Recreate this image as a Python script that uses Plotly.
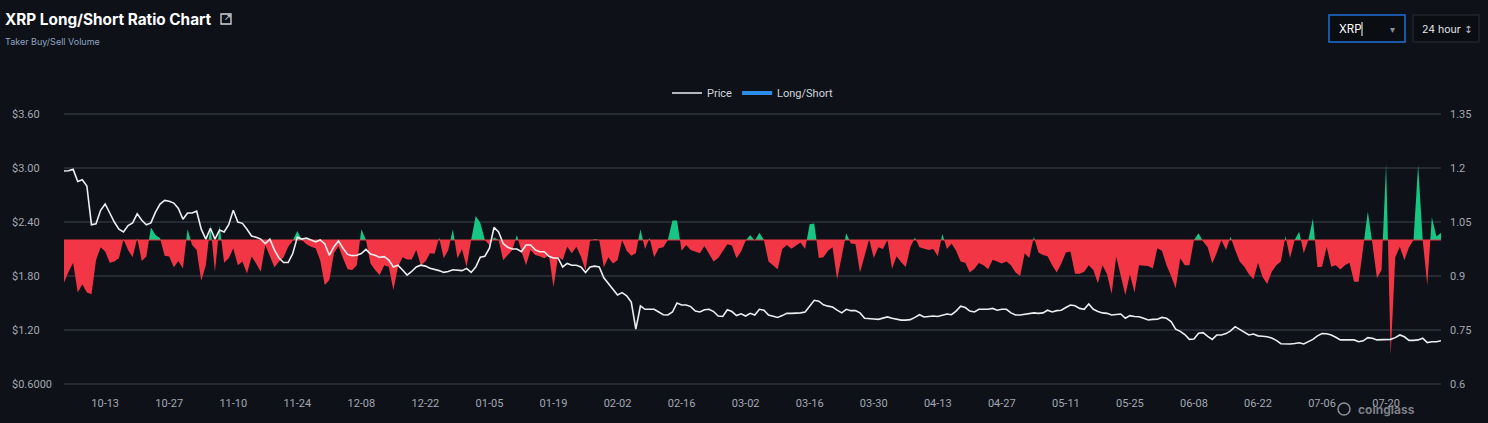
import pandas as pd
import plotly.graph_objects as go

# 日付（2025-10-04 から日次）
dates = pd.date_range('2025-10-04', periods=302, freq='D')

# XRP 価格（USD）
price = [
    2.967, 2.97, 2.985, 2.85, 2.87, 2.80, 2.37, 2.38, 2.53, 2.60,
    2.50, 2.40, 2.32, 2.29, 2.36, 2.39, 2.49, 2.42, 2.37, 2.39,
    2.51, 2.60, 2.64, 2.63, 2.61, 2.55, 2.43, 2.50, 2.50, 2.52,
    2.32, 2.21, 2.33, 2.21, 2.31, 2.29, 2.37, 2.53, 2.40, 2.385,
    2.32, 2.245, 2.23, 2.21, 2.16, 2.21, 2.09, 2.00, 1.95, 1.95,
    2.05, 2.23, 2.21, 2.22, 2.20, 2.18, 2.20, 2.156, 2.03, 2.126,
    2.19, 2.107, 2.04, 2.026, 2.03, 2.05, 2.096, 2.044, 2.03, 2.007,
    2.015, 1.978, 1.90, 1.92, 1.867, 1.81, 1.85, 1.90, 1.92, 1.91,
    1.886, 1.875, 1.86, 1.84, 1.85, 1.87, 1.865, 1.86, 1.885, 1.84,
    1.90, 2.01, 2.02, 2.11, 2.34, 2.29, 2.16, 2.12, 2.10, 2.10,
    2.07, 2.145, 2.145, 2.09, 2.07, 2.07, 2.02, 2.00, 2.00, 1.90,
    1.94, 1.92, 1.92, 1.90, 1.84, 1.90, 1.91, 1.90, 1.78, 1.72,
    1.65, 1.59, 1.615, 1.58, 1.51, 1.21, 1.467, 1.43, 1.43, 1.43,
    1.40, 1.37, 1.367, 1.40, 1.50, 1.478, 1.478, 1.46, 1.41, 1.40,
    1.425, 1.43, 1.405, 1.355, 1.35, 1.425, 1.405, 1.36, 1.38, 1.355,
    1.385, 1.367, 1.43, 1.42, 1.367, 1.355, 1.34, 1.36, 1.385, 1.385,
    1.385, 1.39, 1.40, 1.46, 1.53, 1.52, 1.48, 1.465, 1.455, 1.42,
    1.39, 1.43, 1.415, 1.415, 1.39, 1.33, 1.322, 1.322, 1.318, 1.335,
    1.345, 1.33, 1.318, 1.31, 1.31, 1.315, 1.34, 1.37, 1.345, 1.35,
    1.355, 1.35, 1.36, 1.378, 1.37, 1.41, 1.465, 1.45, 1.41, 1.40,
    1.43, 1.43, 1.43, 1.44, 1.42, 1.43, 1.43, 1.39, 1.367, 1.367,
    1.375, 1.387, 1.39, 1.385, 1.39, 1.42, 1.40, 1.415, 1.42, 1.45,
    1.478, 1.47, 1.44, 1.43, 1.49, 1.43, 1.405, 1.39, 1.385, 1.367,
    1.375, 1.378, 1.33, 1.36, 1.35, 1.348, 1.33, 1.311, 1.318, 1.32,
    1.34, 1.33, 1.294, 1.21, 1.185, 1.15, 1.096, 1.10, 1.163, 1.17,
    1.13, 1.096, 1.145, 1.145, 1.16, 1.19, 1.237, 1.207, 1.17, 1.145,
    1.155, 1.135, 1.13, 1.125, 1.11, 1.085, 1.048, 1.044, 1.044, 1.05,
    1.058, 1.045, 1.07, 1.096, 1.135, 1.16, 1.158, 1.145, 1.12, 1.09,
    1.09, 1.09, 1.09, 1.07, 1.08, 1.115, 1.108, 1.09, 1.09, 1.09,
    1.096, 1.115, 1.145, 1.125, 1.085, 1.085, 1.09, 1.108, 1.06, 1.07,
    1.07, 1.08,
]

# ロング/ショート比率
ratio = [
    0.881, 0.912, 0.937, 0.854, 0.877, 0.854, 0.849, 0.944, 0.98, 0.968,
    0.937, 0.94, 0.949, 1.002, 0.972, 0.952, 1.005, 0.942, 0.954, 1.035,
    1.014, 1.005, 0.956, 0.954, 0.924, 0.942, 0.921, 1.03, 0.986, 0.972,
    0.887, 0.93, 1.042, 0.912, 1.041, 0.937, 0.949, 0.977, 0.93, 0.94,
    0.907, 0.954, 0.935, 0.912, 0.986, 0.954, 0.924, 0.94, 0.952, 0.981,
    0.998, 1.025, 1.0, 0.988, 0.981, 0.977, 0.944, 0.875, 0.889, 0.963,
    0.983, 0.949, 0.919, 0.917, 0.93, 1.03, 1.0, 0.935, 0.917, 0.903,
    0.93, 0.926, 0.861, 0.926, 0.952, 0.946, 0.946, 0.972, 0.93, 0.94,
    0.963, 0.962, 1.007, 0.949, 0.972, 1.03, 0.949, 0.974, 0.926, 1.0,
    1.067, 1.048, 1.0, 0.986, 1.007, 1.0, 0.944, 0.958, 0.972, 1.014,
    0.968, 0.93, 0.972, 0.958, 0.955, 0.949, 0.958, 0.869, 0.954, 0.944,
    0.981, 0.963, 0.981, 0.954, 0.915, 0.998, 1.002, 1.0, 0.924, 0.952,
    0.935, 0.944, 1.0, 0.97, 0.956, 0.963, 1.03, 0.975, 1.006, 0.952,
    0.977, 0.98, 1.0, 1.054, 1.054, 0.97, 0.986, 0.972, 0.967, 0.963,
    0.983, 0.963, 0.94, 0.95, 0.968, 0.988, 0.985, 0.949, 0.968, 0.998,
    1.014, 0.998, 1.02, 1.0, 0.94, 0.93, 0.919, 0.975, 0.986, 0.976,
    0.985, 0.993, 0.975, 1.044, 1.046, 0.95, 0.952, 0.97, 0.98, 0.89,
    0.955, 1.019, 0.99, 0.989, 0.91, 0.96, 1.002, 0.95, 0.98, 0.975,
    1.0, 0.92, 0.955, 0.938, 0.925, 0.98, 1.007, 0.98, 0.975, 0.972,
    0.975, 0.955, 1.017, 0.975, 0.99, 0.97, 0.94, 0.937, 0.91, 0.92,
    0.936, 0.93, 0.919, 0.945, 0.94, 0.935, 0.94, 0.93, 0.91, 0.90,
    0.963, 0.95, 1.009, 0.965, 0.958, 0.955, 0.93, 0.91, 0.935, 0.965,
    0.968, 0.906, 0.906, 0.912, 0.93, 0.917, 0.88, 0.93, 0.905, 0.85,
    0.954, 0.90, 0.847, 0.905, 0.854, 0.93, 0.928, 0.928, 0.921, 0.977,
    0.97, 0.93, 0.90, 0.866, 0.949, 0.93, 0.93, 1.0, 1.019, 0.996,
    0.98, 0.935, 0.965, 1.0, 0.972, 1.009, 0.972, 0.94, 0.926, 0.905,
    0.891, 0.937, 0.897, 0.878, 0.912, 0.93, 0.94, 1.011, 0.95, 1.0,
    1.023, 0.963, 1.0, 1.06, 0.924, 0.926, 0.981, 0.926, 0.93, 0.918,
    0.93, 0.937, 0.884, 0.884, 0.98, 1.079, 0.99, 0.894, 0.917, 1.211,
    0.68, 0.952, 0.981, 0.944, 0.98, 1.0, 1.208, 1.0, 0.875, 1.063,
    1.01, 1.02,
]

# 軸の目盛り
price_ticks = [0.6, 1.2, 1.8, 2.4, 3.0, 3.6]
price_labels = ['$0.6000', '$1.20', '$1.80', '$2.40', '$3.00', '$3.60']
ratio_ticks = [0.6, 0.75, 0.9, 1.05, 1.2, 1.35]
ratio_labels = ['0.6', '0.75', '0.9', '1.05', '1.2', '1.35']

# 色
BG = '#0e1118'
GRID = '#262a33'
GREEN = '#16c784'
RED = '#f23645'
TICK = '#a3a8b2'

# プロット領域（ピクセル）: 端のグリッド線が消えないよう上下2pxずつ広げる
L, R, T, B = 64, 47, 112, 37
W, H = 1488, 423
PW, PH = W - L - R, H - T - B
PAD = 2 / 270  # 2px 分の比率


def px(x):
    # ピクセル座標 → paper座標 (x)
    return (x - L) / PW


def py(y):
    # ピクセル座標 → paper座標 (y)
    return (H - B - y) / PH


def padded(lo, hi):
    span = hi - lo
    return [lo - span * PAD, hi + span * PAD]


fig = go.Figure()

# 基準線 1.0
fig.add_trace(go.Scatter(
    x=dates, y=[1.0] * len(dates),
    mode='lines', line=dict(color=RED, width=1),
    showlegend=False, hoverinfo='skip', yaxis='y'
))

# ロング/ショート（1.0より上は緑、下は赤）
fig.add_trace(go.Scatter(
    x=dates, y=ratio,
    mode='lines', line=dict(width=0),
    fill='tonexty',
    fillgradient=dict(
        type='vertical', start=0.6, stop=1.35,
        colorscale=[[0, RED], [0.5333, RED], [0.5334, GREEN], [1, GREEN]]
    ),
    name='Long/Short', showlegend=False, yaxis='y'
))

# 価格
fig.add_trace(go.Scatter(
    x=dates, y=price,
    mode='lines', line=dict(color='#eceef0', width=1.6),
    name='Price', yaxis='y2'
))

# 凡例用
fig.add_trace(go.Scatter(
    x=[None], y=[None], mode='lines',
    line=dict(color='#2b8de8', width=4),
    name='Long/Short', yaxis='y'
))

annotations = []

# 左軸ラベル（左寄せ）
for v, t in zip(price_ticks, price_labels):
    annotations.append(dict(
        x=0, xref='paper', xanchor='left', xshift=-54,
        y=v, yref='y2', yanchor='middle',
        text=t, showarrow=False,
        font=dict(family='Roboto', size=11, color=TICK)
    ))

# タイトル・セレクタ・ロゴ
annotations += [
    dict(x=px(3), y=py(19), xref='paper', yref='paper', xanchor='left', yanchor='middle',
         text='<b>XRP Long/Short Ratio Chart</b>', showarrow=False,
         font=dict(family='Inter', size=15.3, color='#ffffff')),
    dict(x=px(3), y=py(41), xref='paper', yref='paper', xanchor='left', yanchor='middle',
         text='Taker Buy/Sell Volume', showarrow=False,
         font=dict(family='Inter', size=9, color='#8ea4c2')),
    dict(x=px(228), y=py(17), xref='paper', yref='paper', xanchor='center', yanchor='middle',
         text='↗', showarrow=False,
         font=dict(family='DejaVu Sans', size=9, color='#d5d8de')),
    dict(x=px(1337), y=py(29), xref='paper', yref='paper', xanchor='left', yanchor='middle',
         text='XRP', showarrow=False,
         font=dict(family='Inter', size=11.5, color='#ffffff')),
    dict(x=px(1392), y=py(29), xref='paper', yref='paper', xanchor='center', yanchor='middle',
         text='▾', showarrow=False,
         font=dict(family='DejaVu Sans', size=10, color='#8a8f98')),
    dict(x=px(1420), y=py(29), xref='paper', yref='paper', xanchor='left', yanchor='middle',
         text='24 hour', showarrow=False,
         font=dict(family='Inter', size=10.5, color='#e6e8eb')),
    dict(x=px(1468), y=py(29), xref='paper', yref='paper', xanchor='center', yanchor='middle',
         text='↕', showarrow=False,
         font=dict(family='DejaVu Sans', size=10, color='#b8bcc4')),
    dict(x=px(1356), y=py(409), xref='paper', yref='paper', xanchor='left', yanchor='middle',
         text='<b>coinglass</b>', showarrow=False,
         font=dict(family='Inter', size=12, color='rgba(139,142,148,0.9)')),
]

shapes = [
    # 外部リンクアイコン
    dict(type='rect', xref='paper', yref='paper',
         x0=px(221), x1=px(231), y0=py(24), y1=py(14),
         line=dict(color='#d5d8de', width=1.3)),
    # XRP セレクタ
    dict(type='rect', xref='paper', yref='paper',
         x0=px(1329), x1=px(1405), y0=py(42), y1=py(15),
         line=dict(color='#1f6fd6', width=1.5), fillcolor='#0a0d12'),
    dict(type='line', xref='paper', yref='paper',
         x0=px(1362), x1=px(1362), y0=py(36), y1=py(22),
         line=dict(color='#ffffff', width=1)),
    # 期間セレクタ
    dict(type='rect', xref='paper', yref='paper',
         x0=px(1413), x1=px(1479), y0=py(42), y1=py(15),
         line=dict(color='#2b2f38', width=1), fillcolor='#0a0d12'),
    # ロゴ
    dict(type='circle', xref='paper', yref='paper',
         x0=px(1338), x1=px(1350), y0=py(415), y1=py(403),
         line=dict(color='#8b8e94', width=1.5), fillcolor='rgba(0,0,0,0)'),
]

fig.update_layout(
    width=W, height=H,
    paper_bgcolor=BG, plot_bgcolor=BG,
    margin=dict(l=L, r=R, t=T, b=B),
    showlegend=True,
    legend=dict(
        orientation='h', x=0.5, xanchor='center', y=py(93), yanchor='middle',
        font=dict(family='Roboto', size=11, color='#d1d4dc'),
        bgcolor='rgba(0,0,0,0)', itemwidth=30, traceorder='normal'
    ),
    hovermode='x unified',
    xaxis=dict(
        type='date', range=[dates[0], dates[-1]],
        tick0='2025-10-13', dtick=14 * 86400000, tickformat='%m-%d',
        showgrid=False, zeroline=False, showline=False, ticks='',
        ticklabelstandoff=9,
        tickfont=dict(family='Roboto', size=11, color=TICK)
    ),
    yaxis=dict(
        side='right', range=padded(0.6, 1.35),
        tickvals=ratio_ticks, ticktext=ratio_labels,
        showgrid=True, gridcolor=GRID, gridwidth=1.5,
        zeroline=False, showline=False, ticks='',
        ticklabelstandoff=8,
        tickfont=dict(family='Roboto', size=11, color=TICK)
    ),
    yaxis2=dict(
        overlaying='y', side='left', range=padded(0.6, 3.6),
        tickvals=price_ticks, showticklabels=False,
        showgrid=False, zeroline=False, showline=False, ticks=''
    ),
    annotations=annotations,
    shapes=shapes,
)

fig.write_html('out.html', config={'displayModeBar': False},
               post_script="document.body.style.margin='0';")
